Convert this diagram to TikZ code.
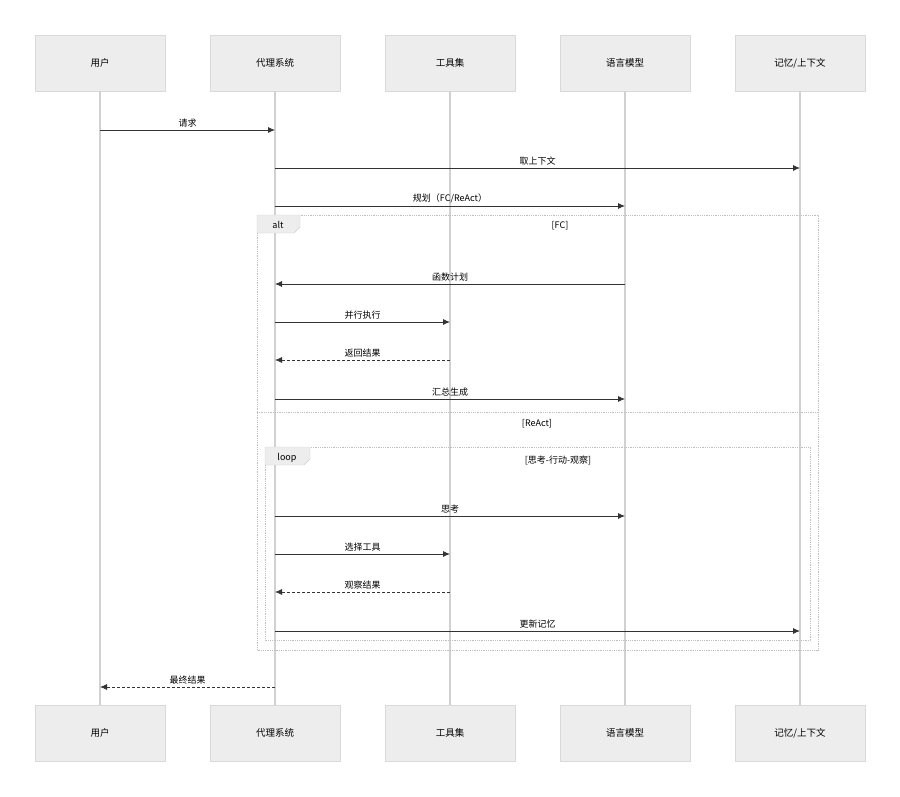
\documentclass[tikz,border=0pt]{standalone}
\usepackage{fontspec}
\setmainfont{Noto Sans CJK SC}
\usetikzlibrary{arrows.meta}
\colorlet{boxfill}{black!7}
\colorlet{boxline}{black!15}
\tikzset{
  actor/.style={draw=boxline,fill=boxfill,minimum width=130pt,minimum height=56pt,inner sep=0,font=\fontsize{9.5}{11}\selectfont},
  life/.style={draw=black!18,line width=1.2pt},
  msg/.style={draw=black!80,line width=0.8pt,-{Latex[length=7pt,width=6pt]}},
  reply/.style={msg,densely dashed},
  lbl/.style={font=\fontsize{9}{11}\selectfont,above=1pt,inner sep=1pt},
  frame/.style={draw=black!25,densely dotted,line width=0.8pt},
  tab/.style={draw=black!18,fill=boxfill,font=\fontsize{9}{11}\selectfont}
}
\begin{document}
\begin{tikzpicture}[x=1pt,y=-1pt]
\useasboundingbox (0,0) rectangle (900,797);
% participants
\foreach \n/\x/\t in {u/100/用户,a/275/代理系统,t/450/工具集,l/625/语言模型,m/800/{记忆/上下文}}{
  \node[actor] (\n) at (\x,63) {\t};
  \node[actor] (\n2) at (\x,733) {\t};
  \draw[life] (\n.south) -- (\n2.north);
}
% frames
\draw[frame] (257,215) rectangle (818,650);
\draw[frame] (257,412) -- (818,412);
\draw[frame] (265,447) rectangle (810,640);
\draw[tab] (257,215) -- (300,215) -- (300,227) -- (294,233) -- (257,233) -- cycle;
\node[font=\fontsize{9}{11}\selectfont] at (278,225) {alt};
\draw[tab] (265,447) -- (310,447) -- (310,459) -- (304,465) -- (265,465) -- cycle;
\node[font=\fontsize{9}{11}\selectfont] at (287,458) {loop};
\node[font=\fontsize{9}{11}\selectfont] at (560,226) {[FC]};
\node[font=\fontsize{9}{11}\selectfont] at (537,424) {[ReAct]};
\node[font=\fontsize{9}{11}\selectfont] at (558,460) {[思考-行动-观察]};
% messages
\foreach \s/\d/\y/\t/\st in {u/a/130/请求/msg, a/m/168/取上下文/msg, a/l/206/{规划（FC/ReAct）}/msg,
  l/a/284/函数计划/msg, a/t/322/并行执行/msg, t/a/360/返回结果/reply, a/l/399/汇总生成/msg,
  a/l/516/思考/msg, a/t/554/选择工具/msg, t/a/592/观察结果/reply, a/m/631/更新记忆/msg,
  a/u/687/最终结果/reply}{
  \coordinate (s) at (\s |- 0,\y);
  \coordinate (d) at (\d |- 0,\y);
  \draw[\st] (s) -- (d) node[lbl,midway] {\t};
}
\end{tikzpicture}
\end{document}
